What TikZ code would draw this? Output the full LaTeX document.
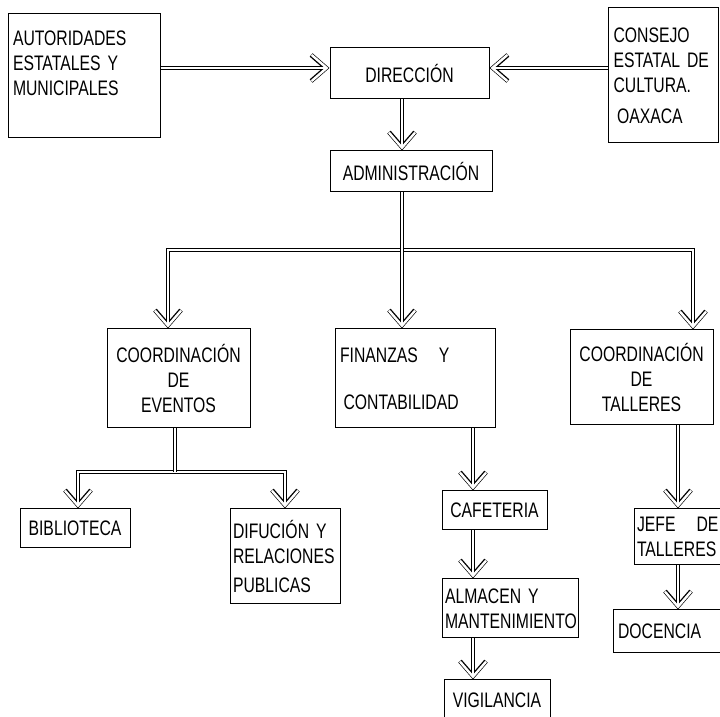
\documentclass[tikz,border=0pt]{standalone}
\usepackage{fontspec}
\setmainfont{Liberation Sans}[FakeStretch=0.75]
\usetikzlibrary{arrows.meta}

\begin{document}
\begin{tikzpicture}[x=1pt,y=1pt,
    box/.style={draw, line width=1pt, inner xsep=5pt, inner ysep=3pt,
      font=\fontsize{21}{25}\selectfont},
    lbox/.style={box, align=left},
    cbox/.style={box, align=center},
    head/.style={-{Straight Barb[length=15pt, width=26pt]}},
    heads/.style={{Straight Barb[length=15pt, width=26pt]}-{Straight Barb[length=15pt, width=26pt]}},
    stem/.style={line width=4.4pt, postaction={draw=white, line width=2.4pt}},
    link/.style={line width=4.4pt, head,
      postaction={draw=white, line width=2.4pt, shorten >=1pt, head}},
    fork/.style={line width=4.4pt, heads,
      postaction={draw=white, line width=2.4pt, shorten >=1pt, shorten <=1pt, heads}}]
    \useasboundingbox (0,0) rectangle (720,717);

    % top row
    \node[lbox, minimum height=124pt, text width=142pt] (aut) at (84,641)
        {AUTORIDADES\\ESTATALES Y\\MUNICIPALES\\ ~};
    \node[cbox, minimum width=159pt, minimum height=51pt] (dir) at (409.5,643.5) {DIRECCIÓN};
    \node[lbox, minimum height=135pt, text width=100pt] (con) at (663.5,641.5)
        {CONSEJO\\ESTATAL DE\\CULTURA.\\[6pt]\,OAXACA};
    \node[cbox, minimum width=162pt, minimum height=41pt] (adm) at (411,545.5) {ADMINISTRACIÓN};

    % second level
    \node[cbox, minimum width=143pt, minimum height=99pt] (eve) at (178.5,338.5)
        {COORDINACIÓN\\DE\\EVENTOS};
    \node[lbox, minimum height=99pt, text width=150pt] (fin) at (415,338.5)
        {FINANZAS\quad Y\\[22pt]\,CONTABILIDAD};
    \node[cbox, minimum width=143pt, minimum height=95pt] (tal) at (641.5,339.5)
        {COORDINACIÓN\\DE\\TALLERES};

    % third level
    \node[cbox, minimum width=110pt, minimum height=39pt] (bib) at (75,188.5) {BIBLIOTECA};
    \node[lbox, minimum height=95pt, text width=104pt, inner xsep=3pt] (dif) at (285,160.5)
        {DIFUCIÓN Y\\RELACIONES\\[4pt]PUBLICAS};
    \node[cbox, minimum width=105pt, minimum height=39pt] (caf) at (494.5,206.5) {CAFETERIA};
    \node[lbox, minimum height=59pt, text width=130pt, inner xsep=3pt] (alm) at (510,108.5)
        {ALMACEN Y\\MANTENIMIENTO};
    \node[cbox, minimum width=106pt, minimum height=40pt] (vig) at (497,17) {VIGILANCIA};
    \node[lbox, minimum height=56pt, text width=86pt, inner xsep=3pt] (jef) at (680,180)
        {JEFE\quad DE\\TALLERES};
    \node[lbox, minimum height=43pt, text width=100pt] (doc) at (668,85.5) {DOCENCIA};

    % connectors
    \draw[link] (aut.east |- 0,649) -- (dir.west |- 0,649);
    \draw[link] (con.west |- 0,649) -- (dir.east |- 0,649);
    \draw[link] (dir.south -| 402,0) -- (adm.north -| 402,0);

    \draw[fork] (eve.north -| 168,0) |- (402,467) -| (tal.north -| 693,0);
    \draw[link] (adm.south -| 402,0) -- (fin.north -| 402,0);

    \draw[fork] (bib.north -| 78,0) |- (175,245) -| (dif.north -| 285,0);
    \draw[stem] (eve.south -| 175,0) -- (175,245);

    \draw[link] (fin.south -| 473,0) -- (caf.north -| 473,0);
    \draw[link] (caf.south -| 473,0) -- (alm.north -| 473,0);
    \draw[link] (alm.south -| 473,0) -- (vig.north -| 473,0);

    \draw[link] (tal.south -| 678,0) -- (jef.north -| 678,0);
    \draw[link] (jef.south -| 678,0) -- (doc.north -| 678,0);
\end{tikzpicture}
\end{document}
